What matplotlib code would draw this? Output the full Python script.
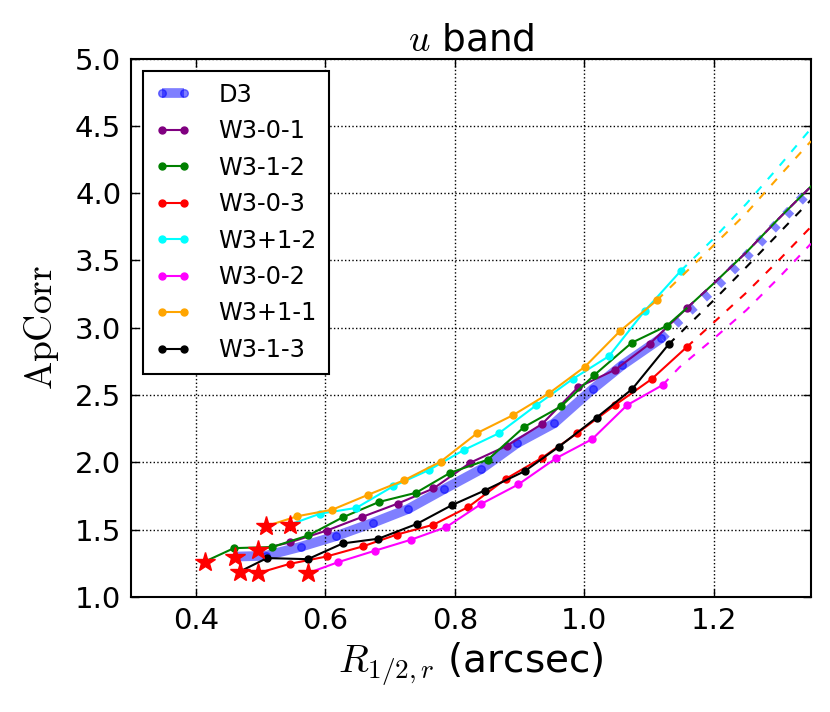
import matplotlib
matplotlib.use('Agg')
import matplotlib.pyplot as plt

plt.rcParams['font.family'] = ['DejaVu Sans']
plt.rcParams['mathtext.fontset'] = 'cm'
plt.rcParams['lines.scale_dashes'] = False

# ---------------- data ----------------
d3_x = [0.460, 0.508, 0.562, 0.617, 0.674, 0.728, 0.783, 0.840, 0.896, 0.953, 1.013, 1.058, 1.119]
d3_y = [1.300, 1.306, 1.373, 1.453, 1.552, 1.654, 1.800, 1.948, 2.142, 2.289, 2.545, 2.720, 2.923]
d3_ext_x = [1.119, 1.146, 1.200, 1.250, 1.300, 1.350]
d3_ext_y = [2.923, 3.054, 3.290, 3.530, 3.780, 4.030]

w301_x = [0.496, 0.545, 0.602, 0.657, 0.712, 0.767, 0.824, 0.880, 0.935, 0.990, 1.048, 1.101, 1.159]
w301_y = [1.351, 1.405, 1.493, 1.595, 1.694, 1.806, 1.998, 2.122, 2.286, 2.557, 2.689, 2.881, 3.149]
w301_ext_x = [1.159, 1.200, 1.250, 1.300, 1.350]
w301_ext_y = [3.149, 3.330, 3.560, 3.810, 4.050]

w312_x = [0.414, 0.459, 0.518, 0.574, 0.627, 0.683, 0.740, 0.793, 0.851, 0.907, 0.964, 1.015, 1.073, 1.127]
w312_y = [1.263, 1.363, 1.371, 1.458, 1.592, 1.706, 1.774, 1.923, 2.020, 2.263, 2.416, 2.647, 2.888, 3.013]
w312_ext_x = [1.127, 1.159, 1.200, 1.250, 1.300, 1.350]
w312_ext_y = [3.013, 3.149, 3.330, 3.560, 3.810, 4.050]

w303_x = [0.496, 0.545, 0.602, 0.658, 0.710, 0.767, 0.821, 0.879, 0.935, 0.989, 1.048, 1.104, 1.158]
w303_y = [1.177, 1.246, 1.301, 1.376, 1.463, 1.537, 1.669, 1.878, 2.035, 2.216, 2.428, 2.619, 2.856]
w303_ext_x = [1.158, 1.200, 1.250, 1.300, 1.350]
w303_ext_y = [2.856, 3.040, 3.260, 3.500, 3.750]

wp12_x = [0.545, 0.592, 0.648, 0.705, 0.760, 0.814, 0.868, 0.926, 0.982, 1.038, 1.093, 1.149]
wp12_y = [1.537, 1.619, 1.662, 1.823, 1.943, 2.092, 2.216, 2.425, 2.619, 2.789, 3.124, 3.423]
wp12_ext_x = [1.149, 1.200, 1.250, 1.300, 1.350]
wp12_ext_y = [3.423, 3.664, 3.920, 4.195, 4.480]

w302_x = [0.573, 0.620, 0.676, 0.732, 0.787, 0.841, 0.898, 0.956, 1.012, 1.066, 1.121]
w302_y = [1.177, 1.259, 1.343, 1.425, 1.520, 1.692, 1.836, 2.030, 2.172, 2.425, 2.575]
w302_ext_x = [1.121, 1.147, 1.200, 1.250, 1.300, 1.350]
w302_ext_y = [2.575, 2.707, 2.920, 3.130, 3.370, 3.625]

wp11_x = [0.508, 0.557, 0.611, 0.666, 0.722, 0.778, 0.835, 0.890, 0.946, 1.001, 1.055, 1.112]
wp11_y = [1.525, 1.600, 1.649, 1.759, 1.868, 2.005, 2.219, 2.351, 2.515, 2.711, 2.975, 3.204]
wp11_ext_x = [1.112, 1.200, 1.250, 1.300, 1.350]
wp11_ext_y = [3.204, 3.614, 3.850, 4.120, 4.386]

w313_x = [0.468, 0.510, 0.573, 0.627, 0.682, 0.741, 0.795, 0.846, 0.908, 0.961, 1.019, 1.074, 1.130]
w313_y = [1.189, 1.289, 1.281, 1.398, 1.433, 1.542, 1.681, 1.791, 1.935, 2.117, 2.333, 2.545, 2.876]
w313_ext_x = [1.130, 1.200, 1.250, 1.300, 1.350]
w313_ext_y = [2.876, 3.205, 3.450, 3.700, 3.950]

x_ticks = [0.4, 0.6, 0.8, 1.0, 1.2]
y_ticks = [1.0, 1.5, 2.0, 2.5, 3.0, 3.5, 4.0, 4.5, 5.0]

# ---------------- figure ----------------
fig = plt.figure(figsize=(8.3, 7.12), dpi=100)
fig.patch.set_facecolor('white')
ax = fig.add_axes([131/830, 1-597/712, 680/830, 538.5/712])

dash = (0, (6, 7))

# D3
ax.plot(d3_x, d3_y, color='blue', alpha=0.5, lw=7, marker='o', ms=5.5,
        mfc='blue', mec='blue', label='D3', zorder=2, solid_capstyle='butt')
ax.plot(d3_ext_x, d3_ext_y, color='blue', alpha=0.5, lw=7, ls=(0, (5, 9)), zorder=2)

series = [
    ('W3-0-1', 'purple', w301_x, w301_y, w301_ext_x, w301_ext_y),
    ('W3-1-2', 'green', w312_x, w312_y, w312_ext_x, w312_ext_y),
    ('W3-0-3', 'red', w303_x, w303_y, w303_ext_x, w303_ext_y),
    ('W3+1-2', 'cyan', wp12_x, wp12_y, wp12_ext_x, wp12_ext_y),
    ('W3-0-2', 'magenta', w302_x, w302_y, w302_ext_x, w302_ext_y),
    ('W3+1-1', 'orange', wp11_x, wp11_y, wp11_ext_x, wp11_ext_y),
    ('W3-1-3', 'black', w313_x, w313_y, w313_ext_x, w313_ext_y),
]

for lab, c, xs, ys, ex, ey in series:
    ax.plot(xs, ys, '-', color=c, lw=1.5, marker='o', ms=5, mfc=c, mec=c,
            label=lab, zorder=3)
    if lab == 'W3-1-2':
        ax.plot(ex, ey, '-', color=c, lw=1.5, zorder=3)
    elif lab == 'W3-0-1':
        ax.plot(ex, ey, color=c, lw=1.5, ls=dash, zorder=4)
    else:
        ax.plot(ex, ey, color=c, lw=1.5, ls=dash, zorder=3)

# first points as red stars
star_x = [s[2][0] for s in series] + [d3_x[0]]
star_y = [s[3][0] for s in series] + [d3_y[0]]
ax.plot(star_x, star_y, linestyle='none', marker='*', ms=15, color='red',
        mec='red', zorder=10)

ax.set_xlim(0.3, 1.35)
ax.set_ylim(1.0, 5.0)
ax.set_xticks(x_ticks)
ax.set_yticks(y_ticks)
ax.set_xticklabels(['%.1f' % t for t in x_ticks])
ax.set_yticklabels(['%.1f' % t for t in y_ticks])
ax.tick_params(direction='in', top=True, right=True, length=6, width=1,
               labelsize=21, pad=7)
for sp in ax.spines.values():
    sp.set_linewidth(1.5)
ax.grid(True, color='black', linestyle=':', linewidth=1)
ax.set_axisbelow(False)

ax.set_title('$u$ band', fontsize=27, pad=6)
ax.set_xlabel('$R_{1/2,r}$ (arcsec)', fontsize=28, labelpad=4)
ax.set_ylabel('$\\mathrm{ApCorr}$', fontsize=27, labelpad=10)

leg = ax.legend(loc='upper left', fontsize=17.3, numpoints=2, fancybox=False,
                edgecolor='black', framealpha=1, handlelength=1.5,
                handletextpad=1.15, borderaxespad=0.5, labelspacing=0.52,
                borderpad=0.5)
leg.get_frame().set_linewidth(1.5)

fig.savefig('out.png', dpi=100, facecolor='white')
